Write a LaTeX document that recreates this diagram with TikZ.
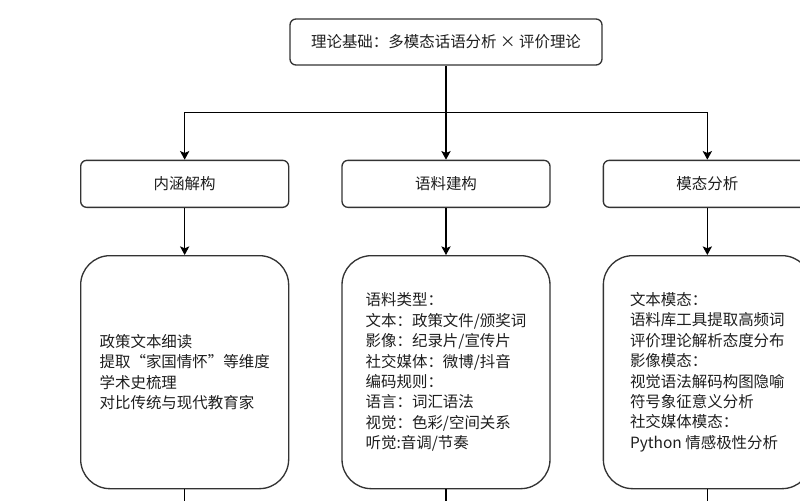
\documentclass[tikz,border=0pt]{standalone}
\usepackage{fontspec}
\setmainfont{Noto Sans CJK SC}
\usetikzlibrary{arrows.meta,positioning,calc}
\definecolor{Ink}{HTML}{1E1E1E}
\definecolor{Edge}{HTML}{333333}

\begin{document}
\begin{tikzpicture}[
  x=0.75pt,y=-0.75pt,
  node distance=35.25pt and 39pt,
  every node/.style={font=\fontsize{11.6pt}{15.3pt}\selectfont,text=Ink},
  head/.style={draw=Edge,line width=1pt,rounded corners=4.5pt,minimum width=234pt,minimum height=34.5pt,align=center},
  stage/.style={draw=Edge,line width=1pt,rounded corners=4.5pt,minimum width=156pt,minimum height=35.25pt,align=center},
  detail/.style={draw=Edge,line width=1pt,rounded corners=22pt,minimum width=156pt,minimum height=174.75pt,align=left},
  arr/.style={-{Stealth[length=6.5pt,width=7pt,inset=1.5pt]},line width=0.8pt,draw=black}
]
\clip (0,0) rectangle (800,500);
\node[head] (theory) at (446,42) {理论基础：多模态话语分析 × 评价理论};
\node[stage,below=70.5pt of theory] (corpus) {语料建构};
\node[stage,left=of corpus] (connot) {内涵解构};
\node[stage,right=of corpus] (modal) {模态分析};
\node[detail,below=of connot] (connotd) {政策文本细读\\提取“家国情怀”等维度\\学术史梳理\\对比传统与现代教育家};
\node[detail,below=of corpus] (corpusd) {语料类型：\\文本：政策文件/颁奖词\\影像：纪录片/宣传片\\社交媒体：微博/抖音\\编码规则：\\语言：词汇语法\\视觉：色彩/空间关系\\听觉:音调/节奏};
\node[detail,below=of modal] (modald) {文本模态：\\语料库工具提取高频词\\评价理论解析态度分布\\影像模态：\\视觉语法解码构图隐喻\\符号象征意义分析\\社交媒体模态：\\Python 情感极性分析};
% branch point
\coordinate (split) at ($(theory.south)!0.5!(corpus.north)$);
\draw[arr] (theory) -- (corpus);
\draw[arr] (split) -| (connot);
\draw[arr] (split) -| (modal);
\draw[arr] (connot) -- (connotd);
\draw[arr] (corpus) -- (corpusd);
\draw[arr] (modal) -- (modald);
% lines leaving the frame
\coordinate[below=20pt of connotd] (connotx);
\coordinate[below=20pt of corpusd] (corpusx);
\coordinate[below=20pt of modald] (modalx);
\draw[arr] (connotd) -- (connotx);
\draw[arr] (corpusd) -- (corpusx);
\draw[arr] (modald) -- (modalx);
\end{tikzpicture}
\end{document}
